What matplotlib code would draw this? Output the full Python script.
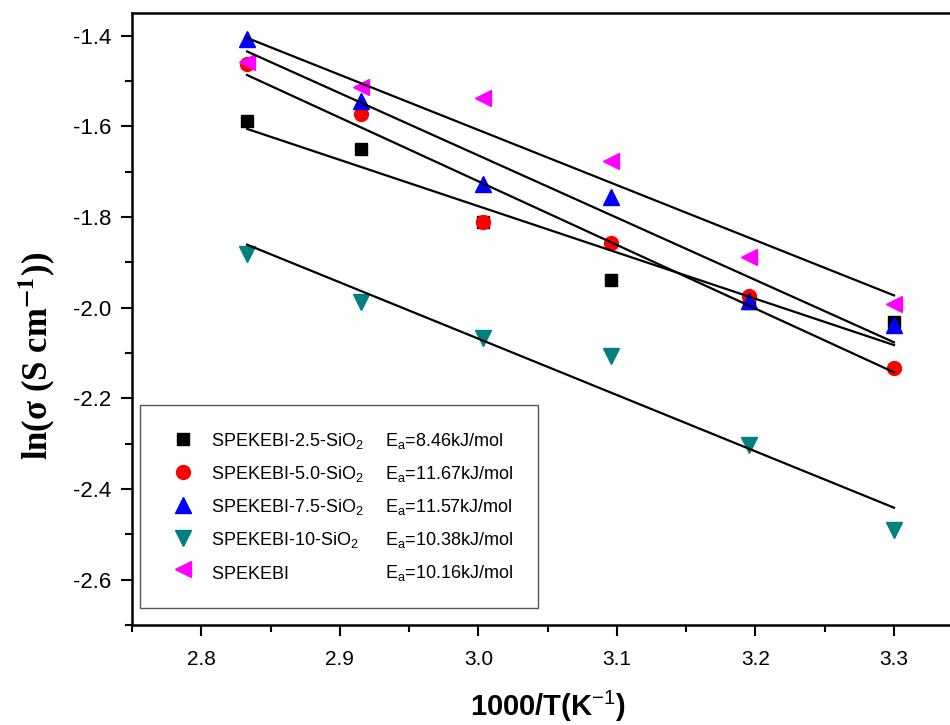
import numpy as np
import matplotlib
matplotlib.use("Agg")
import matplotlib.pyplot as plt
from matplotlib.lines import Line2D
from matplotlib.ticker import MultipleLocator, FormatStrFormatter

plt.rcParams["font.family"] = ["Liberation Sans", "DejaVu Sans"]
plt.rcParams["mathtext.fontset"] = "custom"
plt.rcParams["mathtext.rm"] = "Liberation Sans"
plt.rcParams["mathtext.it"] = "Liberation Sans:italic"
plt.rcParams["mathtext.bf"] = "Liberation Sans:bold"

# 1000/T for T = 353 ... 303 K
inv_t = [2.833, 2.915, 3.003, 3.096, 3.195, 3.300]

ln_sigma_25 = [-1.588, -1.649, -1.810, -1.938, -1.990, -2.031]
ln_sigma_50 = [-1.462, -1.572, -1.810, -1.857, -1.974, -2.133]
ln_sigma_75 = [-1.407, -1.543, -1.727, -1.755, -1.985, -2.038]
ln_sigma_10 = [-1.881, -1.987, -2.068, -2.106, -2.304, -2.490]
ln_sigma_pure = [-1.457, -1.513, -1.537, -1.676, -1.888, -1.993]

# the empty subscript on the last name keeps its row height equal to the others
names = [
    r"SPEKEBI-2.5-SiO$_2$",
    r"SPEKEBI-5.0-SiO$_2$",
    r"SPEKEBI-7.5-SiO$_2$",
    r"SPEKEBI-10-SiO$_2$",
    r"SPEKEBI$_{\,}$",
]
ea_labels = [
    r"E$_\mathrm{a}$=8.46kJ/mol",
    r"E$_\mathrm{a}$=11.67kJ/mol",
    r"E$_\mathrm{a}$=11.57kJ/mol",
    r"E$_\mathrm{a}$=10.38kJ/mol",
    r"E$_\mathrm{a}$=10.16kJ/mol",
]
series = [ln_sigma_25, ln_sigma_50, ln_sigma_75, ln_sigma_10, ln_sigma_pure]
colors = ["#000000", "#ff0000", "#0000ff", "#008080", "#ff00ff"]
markers = ["s", "o", "^", "v", "<"]
msizes = [9, 10, 12, 12, 12]

fig = plt.figure(figsize=(9.5, 7.25), dpi=100)
ax = fig.add_axes([0.139, 0.138, 0.875, 0.844])

x = np.asarray(inv_t)
handles = []
for y, c, m, ms in zip(series, colors, markers, msizes):
    y = np.asarray(y)
    slope, icpt = np.polyfit(x, y, 1)
    ax.plot(x, slope * x + icpt, color="black", lw=1.6, zorder=3)
    (h,) = ax.plot(x, y, linestyle="none", marker=m, ms=ms, color=c,
                   markeredgecolor=c, zorder=2)
    handles.append(h)

ax.set_xlim(2.75, 3.35)
ax.set_ylim(-2.7, -1.35)
ax.xaxis.set_major_locator(MultipleLocator(0.1))
ax.xaxis.set_minor_locator(MultipleLocator(0.05))
ax.yaxis.set_major_locator(MultipleLocator(0.2))
ax.yaxis.set_minor_locator(MultipleLocator(0.1))
ax.xaxis.set_major_formatter(FormatStrFormatter("%.1f"))
ax.yaxis.set_major_formatter(FormatStrFormatter("%.1f"))
ax.tick_params(which="major", direction="out", length=8, width=1.5, labelsize=15)
ax.tick_params(which="minor", direction="out", length=5, width=1.5)
ax.tick_params(axis="x", pad=10)
ax.tick_params(axis="y", labelsize=16, pad=7)
for s in ax.spines.values():
    s.set_linewidth(1.8)

ax.set_xlabel(r"1000/T(K$^{-1}$)", fontsize=21, fontweight="bold")
ax.xaxis.set_label_coords(0.5, -0.105)
ax.set_ylabel(r"ln(σ (S cm$^{\mathbf{-1}}$))", fontsize=25, fontweight="bold",
              family="Liberation Serif", math_fontfamily="stix")
ax.yaxis.set_label_coords(-0.090, 0.44)

blank = [Line2D([], [], linestyle="none") for _ in names]
leg = ax.legend(handles + blank, names + ea_labels, ncol=2, loc="lower left",
                bbox_to_anchor=(0.01, 0.028), fontsize=13, frameon=True,
                fancybox=False, edgecolor="#555555", framealpha=1,
                borderpad=1.4, labelspacing=0.72, handlelength=1.9,
                handletextpad=0.6, columnspacing=-1.3, borderaxespad=0)
leg.get_frame().set_linewidth(1.0)

fig.savefig("out.png", dpi=100)
